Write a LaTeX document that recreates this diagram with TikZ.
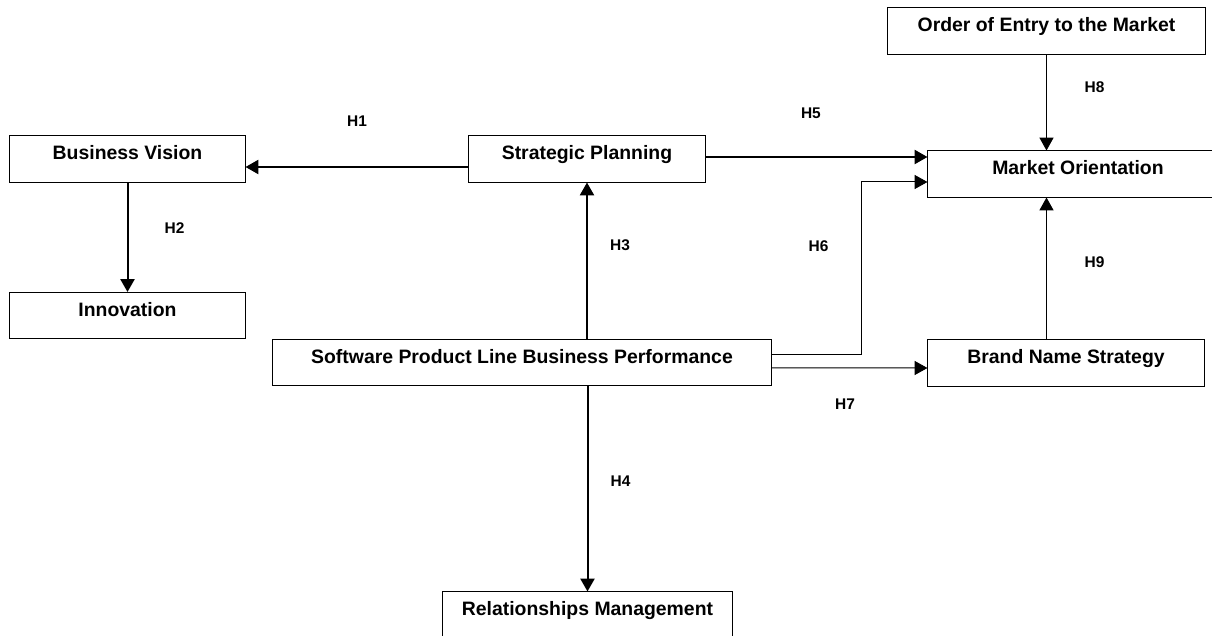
\documentclass[tikz,border=0pt]{standalone}
\usepackage{fontspec}
\setmainfont{Liberation Sans}
\usetikzlibrary{arrows.meta, calc}

\tikzset{
	every block/.style={draw, rectangle, line width=0.025cm, inner xsep=0pt,
		inner ysep=0pt, text height=0.59cm, text depth=0.56cm,
		font=\fontsize{13.8}{16}\selectfont\bfseries},
	hyp/.style={inner sep=0pt, font=\fontsize{11}{13}\selectfont\bfseries},
	link thick/.style={->, line width=0.05cm},
	link thin/.style={->, line width=0.025cm},
}

\begin{document}
\begin{tikzpicture}[x=0.025cm, y=-0.025cm,
	>={Triangle[length=0.32cm, width=0.35cm]}]

		\useasboundingbox (0,0) rectangle (1212,636);

		% Left column
		\node [every block/.try, minimum width=5.875cm] (vision) at (127.5,159) {
			Business Vision
		};
		\node [every block/.try, minimum width=5.875cm] (innov) at (127.5,315.5) {
			Innovation
		};

		% Middle column
		\node [every block/.try, minimum width=5.9cm] (plan) at (587,159) {
			Strategic Planning
		};
		\node [every block/.try, minimum width=12.45cm] (perf) at (522,362.5) {
			Software Product Line Business Performance
		};
		\node [every block/.try, minimum width=7.225cm] (relat) at (587.5,615) {
			Relationships Management
		};

		% Right column
		\node [every block/.try, minimum width=7.925cm] (order) at (1046.5,31) {
			Order of Entry to the Market
		};
		\node [every block/.try, minimum width=7.5cm] (market) at (1078,174) {
			Market Orientation
		};
		\node [every block/.try, minimum width=6.9cm] (brand) at (1066,363) {
			Brand Name Strategy
		};

		% Hypotheses
		\draw [link thick] ($(plan.west)+(0,8)$) --
			node [hyp, midway, yshift=1.15cm] {H1}
			($(vision.east)+(0,8)$);
		\draw [link thick] (vision.south) --
			node [hyp, midway, xshift=1.175cm, yshift=0.24cm] {H2}
			(innov.north);
		\draw [link thick] (perf.north -| plan.south) --
			node [hyp, midway, xshift=0.825cm, yshift=0.4cm] {H3}
			(plan.south);
		\draw [link thick] (perf.south -| relat.north) --
			node [hyp, midway, xshift=0.825cm, yshift=0.19cm] {H4}
			(relat.north);
		\draw [link thick] ($(plan.east)+(0,-2)$) --
			node [hyp, midway, xshift=-0.14cm, yshift=1.1cm] {H5}
			($(market.west)+(0,-17)$);
		\draw [link thin] ($(perf.east)+(0,-8)$) -- ++(90,0) |-
			node [hyp, pos=0.25, xshift=-1.075cm, yshift=0.56cm] {H6}
			($(market.west)+(0,8)$);
		\draw [link thin] ($(perf.east)+(0,5.5)$) --
			node [hyp, midway, xshift=-0.11cm, yshift=-0.9cm] {H7}
			($(brand.west)+(0,5)$);
		\draw [link thin] (order.south) --
			node [hyp, midway, xshift=1.2cm, yshift=0.39cm] {H8}
			(order.south |- market.north);
		\draw [link thin] (brand.north -| order.south) --
			node [hyp, midway, xshift=1.2cm, yshift=0.16cm] {H9}
			(order.south |- market.south);

	\end{tikzpicture}
\end{document}
